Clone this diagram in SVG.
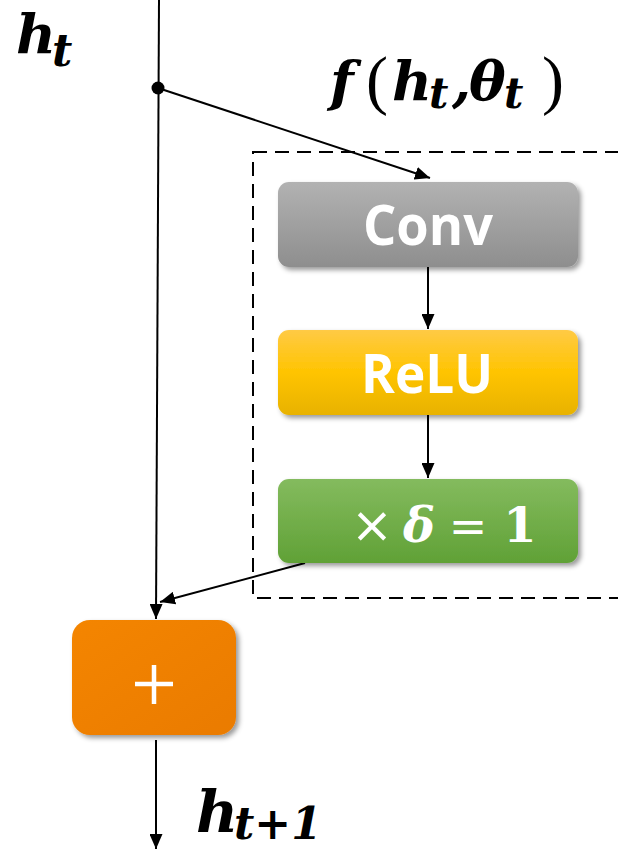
<svg xmlns="http://www.w3.org/2000/svg" width="618" height="849" viewBox="0 0 618 849">
<defs>
<style>
.ln{stroke:#000;stroke-width:2;fill:none}
.math{font-family:"DejaVu Serif","Liberation Serif",serif;font-weight:bold;font-style:italic;fill:#000}
.par{font-family:"Liberation Serif",serif;font-style:normal;font-weight:normal}
.lbl{font-family:"Open Sans","Noto Sans",sans-serif;font-weight:bold;fill:#fff;text-anchor:middle}
</style>
<marker id="ah" viewBox="0 0 15 13" refX="15" refY="6.5" markerWidth="15" markerHeight="13" markerUnits="userSpaceOnUse" orient="auto">
<path d="M0,0 L15,6.5 L0,13 Z" fill="#000"/>
</marker>
<filter id="sh" x="-10%" y="-10%" width="125%" height="135%">
<feDropShadow dx="3" dy="3" stdDeviation="2.5" flood-color="#000" flood-opacity="0.4"/>
</filter>
<linearGradient id="gGray" x1="0" y1="0" x2="0" y2="1">
<stop offset="0" stop-color="#b2b2b2"/><stop offset="1" stop-color="#8e8e8e"/>
</linearGradient>
<linearGradient id="gGold" x1="0" y1="0" x2="0" y2="1">
<stop offset="0" stop-color="#ffca45"/><stop offset="0.5" stop-color="#ffc400"/><stop offset="1" stop-color="#e8b200"/>
</linearGradient>
<linearGradient id="gGreen" x1="0" y1="0" x2="0" y2="1">
<stop offset="0" stop-color="#84bb5e"/><stop offset="1" stop-color="#60a136"/>
</linearGradient>
<linearGradient id="gOrange" x1="0" y1="0" x2="1" y2="1">
<stop offset="0" stop-color="#f48500"/><stop offset="1" stop-color="#ea7b02"/>
</linearGradient>
</defs>
<rect width="618" height="849" fill="#fff"/>

<g id="block-f">
<rect x="253" y="152" width="380" height="446" fill="none" stroke="#000" stroke-width="2" stroke-dasharray="14,8"/>
</g>

<g id="connectors">
<line class="ln" x1="159" y1="0" x2="156" y2="619" marker-end="url(#ah)"/>
<circle cx="158" cy="88" r="6.5" fill="#000"/>
<line class="ln" x1="158" y1="88" x2="430" y2="178" marker-end="url(#ah)"/>
<line class="ln" x1="428" y1="267" x2="428" y2="329" marker-end="url(#ah)"/>
<line class="ln" x1="428" y1="415" x2="428" y2="478" marker-end="url(#ah)"/>
<line class="ln" x1="305" y1="563" x2="160" y2="602" marker-end="url(#ah)"/>
<line class="ln" x1="156" y1="740" x2="156" y2="849" marker-end="url(#ah)"/>
</g>

<g id="label-ht">
<text class="math" font-size="55"><tspan x="16" y="53">h</tspan><tspan x="52" y="66" font-size="44">t</tspan></text>
</g>

<g id="label-f">
<text class="math" font-size="55">
<tspan x="330" y="100">f</tspan>
<tspan class="par" x="366" y="102" font-size="66">(</tspan>
<tspan x="392" y="100">h</tspan>
<tspan x="429" y="108" font-size="42">t</tspan>
<tspan x="452" y="100">,</tspan>
<tspan x="469" y="100">θ</tspan>
<tspan x="504" y="108" font-size="42">t</tspan>
<tspan class="par" x="542" y="102" font-size="66">)</tspan>
</text>
</g>

<g id="node-conv">
<rect x="278" y="182" width="300" height="85" rx="11" fill="url(#gGray)" filter="url(#sh)"/>
<text class="lbl" x="428" y="245" font-size="56" textLength="130" lengthAdjust="spacingAndGlyphs">Conv</text>
</g>

<g id="node-relu">
<rect x="278" y="330" width="300" height="85" rx="11" fill="url(#gGold)" filter="url(#sh)"/>
<text class="lbl" x="427" y="393" font-size="54" textLength="132" lengthAdjust="spacingAndGlyphs">ReLU</text>
</g>

<g id="node-delta">
<rect x="278" y="479" width="300" height="84" rx="11" fill="url(#gGreen)" filter="url(#sh)"/>
<text x="372" y="542" font-family="DejaVu Sans,sans-serif" font-size="50" fill="#fff" text-anchor="middle">×</text>
<text x="419" y="542" font-family="DejaVu Serif,serif" font-weight="bold" font-style="italic" font-size="48" fill="#fff" text-anchor="middle">δ</text>
<text x="468" y="542" font-family="DejaVu Sans,sans-serif" font-size="46" fill="#fff" text-anchor="middle">=</text>
<text x="520" y="542" font-family="DejaVu Serif,serif" font-weight="bold" font-size="48" fill="#fff" text-anchor="middle">1</text>
</g>

<g id="node-plus">
<rect x="72" y="620" width="164" height="115" rx="18" fill="url(#gOrange)" filter="url(#sh)"/>
<path d="M135,684 H173 M154,665 V704" stroke="#fff" stroke-width="4.5" fill="none"/>
</g>

<g id="label-ht1">
<text class="math" font-size="58"><tspan x="196" y="832">h</tspan><tspan x="234" y="839" font-size="44">t+1</tspan></text>
</g>
</svg>
